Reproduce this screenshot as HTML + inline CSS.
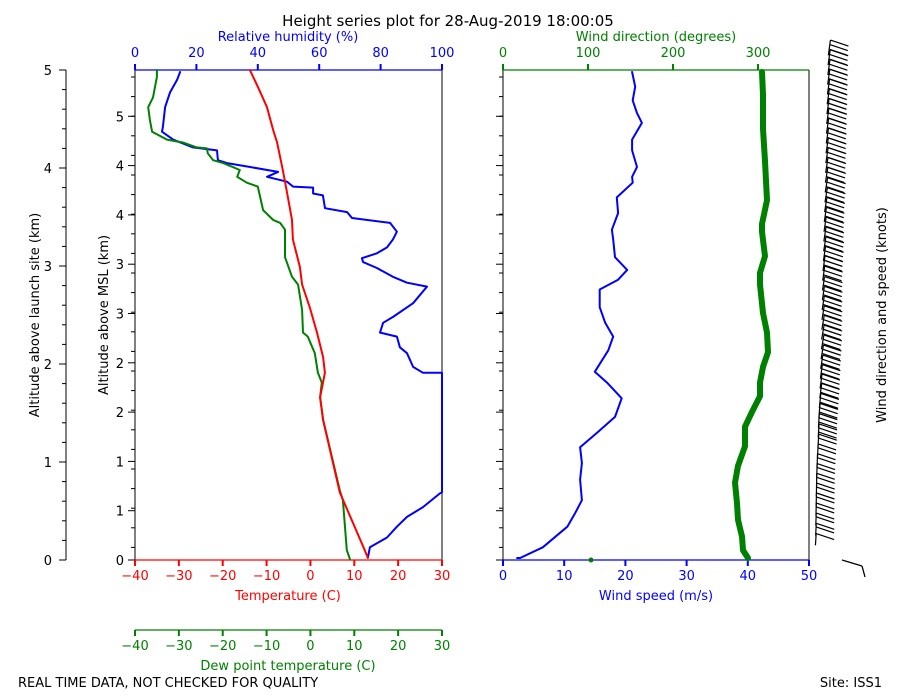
<!DOCTYPE html>
<html><head><meta charset="utf-8"><style>
body{margin:0;background:#fff}
svg{display:block;font-family:"DejaVu Sans","Liberation Sans",sans-serif}
</style></head><body>
<svg id="c" width="900" height="700" viewBox="0 0 900 700">
<rect width="900" height="700" fill="#fff"/>
<text x="448" y="26" font-size="15" text-anchor="middle">Height series plot for 28-Aug-2019 18:00:05</text>
<text x="288" y="41" font-size="13" fill="blue" text-anchor="middle">Relative humidity (%)</text>
<text x="656" y="41" font-size="13" fill="green" text-anchor="middle">Wind direction (degrees)</text>
<text x="288" y="600" font-size="13" fill="red" text-anchor="middle">Temperature (C)</text>
<text x="288" y="670" font-size="13" fill="green" text-anchor="middle">Dew point temperature (C)</text>
<text x="656" y="600" font-size="13" fill="blue" text-anchor="middle">Wind speed (m/s)</text>
<text x="18" y="687" font-size="13">REAL TIME DATA, NOT CHECKED FOR QUALITY</text>
<text x="882" y="687" font-size="13" text-anchor="end">Site: ISS1</text>
<text transform="translate(39,315) rotate(-90)" font-size="13" text-anchor="middle">Altitude above launch site (km)</text>
<text transform="translate(108,315) rotate(-90)" font-size="13" text-anchor="middle">Altitude above MSL (km)</text>
<text transform="translate(886,315) rotate(-90)" font-size="13" text-anchor="middle">Wind direction and speed (knots)</text>
<g id="g"></g>
</svg>
<script>
// Thermo data (altitude above launch site km)
const tempH=[0.02,0.12,0.69,1.43,1.66,1.91,2.07,2.32,2.57,2.81,2.99,3.27,3.47,3.74,3.98,4.26,4.39,4.62,4.83,5.0];
const tempV=[13.1,12.2,6.7,2.9,2.2,3.3,2.9,1.5,-0.1,-1.9,-2.4,-4.0,-4.2,-5.3,-6.3,-7.6,-8.5,-9.9,-12.0,-13.8];
const dewH=[0.01,0.10,0.61,0.71,1.43,1.66,1.81,1.91,2.11,2.28,2.32,2.55,2.81,2.89,3.09,3.37,3.44,3.47,3.57,3.81,3.85,3.91,3.98,4.05,4.08,4.15,4.20,4.21,4.26,4.29,4.37,4.49,4.62,4.72,4.93,5.0];
const dewV=[9.0,8.3,7.4,6.7,2.9,2.2,2.6,1.7,1.0,-0.6,-1.7,-1.9,-2.8,-4.2,-5.8,-5.8,-6.9,-8.5,-10.8,-12.0,-14.5,-16.7,-16.1,-19.9,-22.2,-23.4,-23.6,-25.9,-29.1,-32.7,-36.1,-36.6,-37.0,-35.9,-35.0,-35.0];
const rhH=[0.03,0.13,0.23,0.34,0.44,0.54,0.68,0.69,1.91,1.91,1.97,2.11,2.17,2.28,2.32,2.42,2.48,2.62,2.79,2.83,2.89,2.98,3.04,3.08,3.13,3.19,3.27,3.35,3.44,3.49,3.55,3.59,3.72,3.74,3.80,3.81,3.86,3.91,3.96,4.01,4.05,4.08,4.18,4.21,4.29,4.37,4.42,4.62,4.77,4.90,4.98];
const rhV=[75.9,76.5,82.1,85.3,88.6,93.8,99.3,100,100,93.8,90.6,88.6,86.3,85.3,79.8,80.8,84.0,90.6,95.1,88.6,84.0,78.8,74.3,73.9,78.8,82.1,84.0,85.3,83.1,70.7,69.1,61.9,61.2,58.0,58.0,51.5,49.5,43.0,46.6,37.5,30.0,27.0,26.7,18.9,12.4,8.8,9.1,9.8,11.4,13.7,14.7];
// Wind data
const spdH=[0.02,0.02,0.13,0.34,0.48,0.61,0.82,0.99,1.15,1.30,1.46,1.65,1.81,1.92,2.14,2.28,2.42,2.58,2.76,2.86,2.96,3.09,3.27,3.37,3.54,3.70,3.85,3.91,4.01,4.18,4.29,4.46,4.56,4.69,4.83,4.98];
const spdV=[2.3,2.8,6.5,10.5,11.8,12.9,12.6,12.9,12.6,15.4,18.3,19.4,17.0,15.0,17.2,18.0,16.7,15.8,15.8,18.8,20.3,18.3,18.0,17.8,18.8,18.6,21.2,21.1,21.9,21.1,21.1,22.7,21.9,21.2,21.6,21.1];
const dirH=[0.02,0.10,0.24,0.41,0.58,0.79,0.96,1.16,1.36,1.53,1.67,1.81,1.97,2.12,2.32,2.52,2.81,2.93,3.10,3.35,3.43,3.67,4.07,4.40,4.75,4.98];
const dirV=[288.2,282.4,281.2,276.5,275.3,272.9,276.5,284.7,284.7,294,302.4,302.4,305.9,311.8,310.6,305.9,302.4,302.4,308.2,304.7,304.7,310.6,308.2,305.9,305.9,304.7];
const strayDirH=[0.0], strayDirV=[103.5];
const tempTicks=[-40,-30,-20,-10,0,10,20,30];
const rhTicks=[0,20,40,60,80,100];
const spdTicks=[0,10,20,30,40,50];
const dirTicks=[0,100,200,300];
const launchTicks=[0,1,2,3,4,5];
const mslLabels=["0","1","1","2","2","3","3","4","4","5"];

const NS="http://www.w3.org/2000/svg",G=document.getElementById('g');
function el(t,a,p){const e=document.createElementNS(NS,t);for(const k in a)e.setAttribute(k,a[k]);(p||G).appendChild(e);return e;}
const Y=h=>560-98*h;
const XT=t=>135+(t+40)/70*307;
const XR=r=>135+r/100*307;
const XS=s=>503+s/50*306;
const XD=d=>503+d/360*306;
function line(x1,y1,x2,y2,c,w,name){const e=el('line',{x1,y1,x2,y2,stroke:c,'stroke-width':w||1});

return e;}
function txt(x,y,s,c,anchor,name){const e=el('text',{x,y,fill:c,'font-size':13,'text-anchor':anchor||'middle'});e.textContent=s;

return e;}
function path(xs,ys,fx,c,w,name){let d='';for(let i=0;i<xs.length;i++)d+=(i?'L':'M')+fx(xs[i]).toFixed(1)+','+Y(ys[i]).toFixed(1);
const e=el('path',{d,fill:'none',stroke:c,'stroke-width':w,'stroke-linejoin':'round','stroke-linecap':'round'});

return e;}

// launch-site axis
line(66,70,66,560,'#000',1,'launch-axis-line');
for(let h=0;h<=5.001;h+=0.2)line(62,Y(h),66,Y(h),'#000',1,'launch-minor-tick');
launchTicks.forEach(v=>{line(59,Y(v),66,Y(v),'#000',1,'launch-major-tick');txt(52,Y(v)+5,String(v),'#000','end','launch-tick-label');});
// MSL axis ticks
for(let i=0;i<25;i++){const y=77+19.6*i;if(y>560)break;line(131,y,135,y,'#000',1,'msl-minor-tick');line(499,y,503,y,'#000',1,'wind-panel-minor-tick');}
mslLabels.forEach((s,i)=>{const y=560-i*49.3;line(128,y,135,y,'#000',1,'msl-major-tick');line(496,y,503,y,'#000',1,'wind-panel-major-tick');txt(124,y+5,s,'#000','end','msl-tick-label');});

// left panel spines
line(135,70,135,560,'#000',1,'thermo-left-spine');
line(442,70,442,560,'#000',1,'thermo-right-spine');
line(135,70,442,70,'blue',1.2,'rh-axis-line');
line(135,560,442,560,'red',1.2,'temperature-axis-line');
line(135,630,442,630,'green',1.2,'dewpoint-axis-line');
rhTicks.forEach(v=>{line(XR(v),64,XR(v),70,'blue',2,'rh-tick');txt(XR(v),57,String(v),'blue','middle','rh-tick-label');});
tempTicks.forEach(v=>{line(XT(v),560,XT(v),566,'red',2,'temperature-tick');txt(XT(v),580,String(v).replace('-','\u2212'),'red','middle','temperature-tick-label');
line(XT(v),630,XT(v),636,'green',2,'dewpoint-tick');txt(XT(v),650,String(v).replace('-','\u2212'),'green','middle','dewpoint-tick-label');});
// right panel spines
line(503,70,503,560,'#000',1,'wind-left-spine');
line(809,70,809,560,'#000',1,'wind-right-spine');
line(503,70,809,70,'green',1.2,'wind-direction-axis-line');
line(503,560,809,560,'blue',1.2,'wind-speed-axis-line');
dirTicks.forEach(v=>{line(XD(v),64,XD(v),70,'green',2,'direction-tick');txt(XD(v),57,String(v),'green','middle','direction-tick-label');});
spdTicks.forEach(v=>{line(XS(v),560,XS(v),566,'blue',2,'speed-tick');txt(XS(v),580,String(v),'blue','middle','speed-tick-label');});

// series
path(rhV,rhH,XR,'blue',2,'rh-line');
path(dewV,dewH,XT,'green',2,'dewpoint-line');
path(tempV,tempH,XT,'red',2,'temperature-line');
path(spdV,spdH,XS,'blue',2,'wind-speed-line');
path(dirV,dirH,XD,'green',6,'wind-direction-line');
strayDirV.forEach((v,i)=>{const c=el('circle',{cx:XD(v),cy:Y(strayDirH[i]),r:2.5,fill:'green'});

});

// wind barbs from wind arrays
function interp(H,V,h){if(h<=H[0])return V[0];for(let i=1;i<H.length;i++)if(h<=H[i]){const t=(h-H[i-1])/((H[i]-H[i-1])||1);return V[i-1]+t*(V[i]-V[i-1]);}return V[V.length-1];}
for(let h=0.15;h<=5.2;h+=0.1){
  const d=interp(dirH,dirV,Math.min(h,5)),s=interp(spdH,spdV,Math.min(h,5));
  const y=Y(h),xb=815+h*2.4+(d-280)*0.04;
  const len=10+s*0.25;
  const tx=xb+(d-270)*0.06, ty=y-len;
  line(xb,y,tx,ty,'#000',1.2,'wind-barb-staff');
  const nb=Math.max(1,Math.round(s*1.94/10));
  for(let k=0;k<Math.min(nb,3);k++){const f=k*0.3;const bx=tx+(xb-tx)*f,by=ty+(y-ty)*f;
    line(bx,by,bx+18,by+6,'#000',1.2,'wind-barb-flag');}
}
line(842,560,862,566,'#000',1.3,'surface-barb-flag');
line(862,566,865,577,'#000',1.3,'surface-barb-staff');
</script>
</body></html>
